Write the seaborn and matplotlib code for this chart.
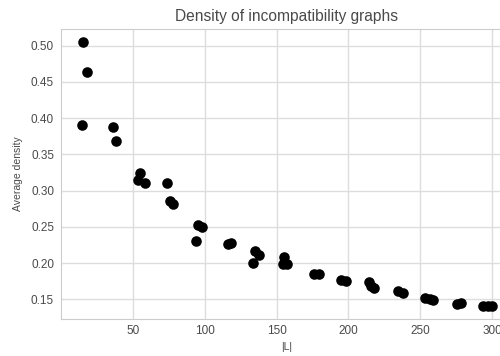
import matplotlib
matplotlib.use("Agg")
import matplotlib.pyplot as plt
import seaborn as sns
import pandas as pd

# number of literals |L| and average density of the incompatibility graph
n_literals = [15.4, 18.1, 14.2, 35.8, 37.9, 55.1, 53.3, 58.4, 73.7, 76.0,
              78.1, 95.3, 98.3, 93.6, 116.0, 118.3, 135.3, 138.1, 133.7,
              155.1, 157.4, 154.4, 176.0, 179.2, 195.0, 198.0, 214.1, 216.0,
              218.0, 234.6, 238.1, 253.6, 256.5, 259.0, 275.3, 278.7, 294.0,
              297.0, 299.6]
avg_density = [0.505, 0.464, 0.390, 0.388, 0.368, 0.324, 0.314, 0.311, 0.311,
               0.285, 0.281, 0.253, 0.250, 0.231, 0.226, 0.228, 0.217, 0.211,
               0.200, 0.208, 0.198, 0.198, 0.185, 0.185, 0.176, 0.175, 0.174,
               0.168, 0.165, 0.161, 0.158, 0.152, 0.151, 0.149, 0.143, 0.145,
               0.141, 0.141, 0.141]

df = pd.DataFrame({"L": n_literals, "density": avg_density})

sns.set_style("whitegrid")
plt.rcParams["font.family"] = ["Liberation Sans", "DejaVu Sans"]
text_col = "#4a4a4a"

fig = plt.figure(figsize=(5.0, 3.56), dpi=100)
ax = fig.add_axes([0.122, 0.104, 0.902, 0.815])

sns.scatterplot(data=df, x="L", y="density", color="black", s=58,
                linewidth=0, ax=ax)

ax.set_title("Density of incompatibility graphs", fontsize=11.2,
             color=text_col, pad=6)
ax.set_xlabel("|L|", fontsize=7.5, color=text_col, labelpad=4)
ax.set_ylabel("Average density", fontsize=7.5, color=text_col, labelpad=6)
ax.set_xticks([50, 100, 150, 200, 250, 300])
ax.set_yticks([0.15, 0.20, 0.25, 0.30, 0.35, 0.40, 0.45, 0.50])
ax.tick_params(axis="both", labelsize=8.5, colors=text_col, length=0)
ax.tick_params(axis="y", pad=5)
ax.tick_params(axis="x", pad=4)
for sp in ax.spines.values():
    sp.set_color("#cccccc")
ax.grid(color="#dddddd", linewidth=1)

fig.savefig("out.png", dpi=100)
